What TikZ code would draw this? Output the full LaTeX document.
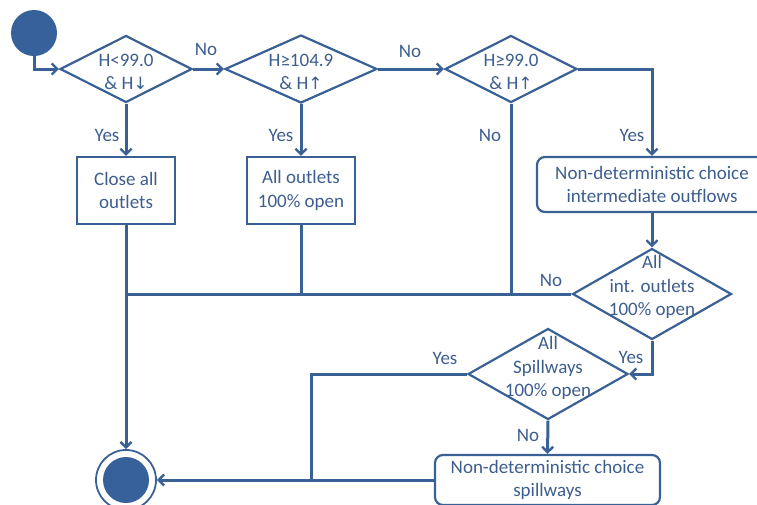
\documentclass[tikz,border=0pt]{standalone}
\usepackage{fontspec}
\setmainfont{Carlito}
\newfontfamily\symfont{DejaVu Sans}
\usetikzlibrary{arrows.meta,shapes.geometric}
\definecolor{ln}{HTML}{3A6196}
\definecolor{fl}{HTML}{37619A}
\definecolor{tx}{HTML}{3D5E8E}
\tikzset{
  conn/.style={draw=ln, line width=3pt},
  arr/.style={conn, -{Straight Barb[length=5.5pt,width=11pt,line width=2.4pt]}},
  dec/.style={diamond, draw=ln, line width=2.2pt, inner sep=0pt, fill=white},
  actbox/.style={draw=ln, line width=2.2pt, fill=white, align=center, text=tx, inner sep=0pt},
  rbox/.style={actbox, rounded corners=8pt},
  txt/.style={text=tx, align=center, font=\fontsize{19}{23.5}\selectfont, inner sep=0pt},
  lbl/.style={text=tx, font=\fontsize{19}{22}\selectfont, inner sep=0pt},
}
\newcommand{\arrsym}[1]{{\symfont\fontsize{17}{23}\selectfont #1}}
\begin{document}
\begin{tikzpicture}[x=1pt,y=-1pt]
\useasboundingbox (0,0) rectangle (757,504);
% start
\node[circle, fill=fl, minimum size=46pt, inner sep=0pt] (s) at (34,33) {};
% decisions
\node[dec, minimum width=132pt, minimum height=67pt] (d1) at (126,69) {};
\node[txt] (t1) at (126,72) {H<99.0\\\& H\arrsym{↓}};
\node[dec, minimum width=152pt, minimum height=68pt] (d2) at (301,69) {};
\node[txt] (t2) at (301,72) {H≥104.9\\\& H\arrsym{↑}};
\node[dec, minimum width=132pt, minimum height=67pt] (d3) at (511,69) {};
\node[txt] (t3) at (511,72) {H≥99.0\\\& H\arrsym{↑}};
% boxes
\node[actbox, minimum width=98pt, minimum height=67pt] (b1) at (126,190.5) {};
\node[txt] (tb1) at (b1) {Close all\\outlets};
\node[actbox, minimum width=108pt, minimum height=67pt] (b2) at (301,190.5) {};
\node[txt] (tb2) at (b2) {All outlets\\100\% open};
\node[rbox, minimum width=230pt, minimum height=55pt] (b3) at (652,184.5) {};
\node[txt] (tb3) at (b3) {Non-deterministic choice\\intermediate outflows};
\node[dec, minimum width=159pt, minimum height=91pt] (d4) at (652,294) {};
\node[txt] (t4) at (652,287) {All\\int. outlets\\100\% open};
\node[dec, minimum width=160pt, minimum height=91pt] (d5) at (548,374) {};
\node[txt] (t5) at (548,368) {All\\Spillways\\100\% open};
\node[rbox, minimum width=225pt, minimum height=50pt] (b4) at (547.5,480) {};
\node[txt] (tb4) at (b4) {Non-deterministic choice\\spillways};
% end
\node[circle, draw=ln, line width=1.8pt, minimum size=60pt, inner sep=0pt] (e) at (126,480) {};
\node[circle, fill=fl, minimum size=46pt, inner sep=0pt] (ei) at (e) {};
% junctions
\coordinate (m1) at (126,294);
\coordinate (j) at (311,480);
% connectors
\draw[arr] (s.south) |- (d1.west);
\draw[arr] (d1.east) -- (d2.west);
\draw[arr] (d2.east) -- (d3.west);
\draw[arr] (d3.east) -| (b3.north);
\draw[arr] (d1.south) -- (b1.north);
\draw[arr] (d2.south) -- (b2.north);
\draw[conn] (d3.south) -- (d3.south |- m1);
\draw[conn] (b2.south) -- (b2.south |- m1);
\draw[conn] (d4.west) -- (m1);
\draw[arr] (b1.south) -- (e.north);
\draw[arr] (b3.south) -- (d4.north);
\draw[arr] (d4.south) |- (d5.east);
\draw[arr] (d5.south) -- (b4.north);
\draw[conn] (d5.west) -| (j);
\draw[arr] (b4.west) -- (e.east);
% labels
\node[lbl] (l1) at (206,49) {No};
\node[lbl] (l2) at (410,51) {No};
\node[lbl] (l3) at (107,135) {Yes};
\node[lbl] (l4) at (281,135) {Yes};
\node[lbl] (l5) at (490,135) {No};
\node[lbl] (l6) at (632,135) {Yes};
\node[lbl] (l7) at (551,280) {No};
\node[lbl] (l8) at (445,358) {Yes};
\node[lbl] (l9) at (631,357) {Yes};
\node[lbl] (l10) at (528,435) {No};
\end{tikzpicture}
\end{document}
